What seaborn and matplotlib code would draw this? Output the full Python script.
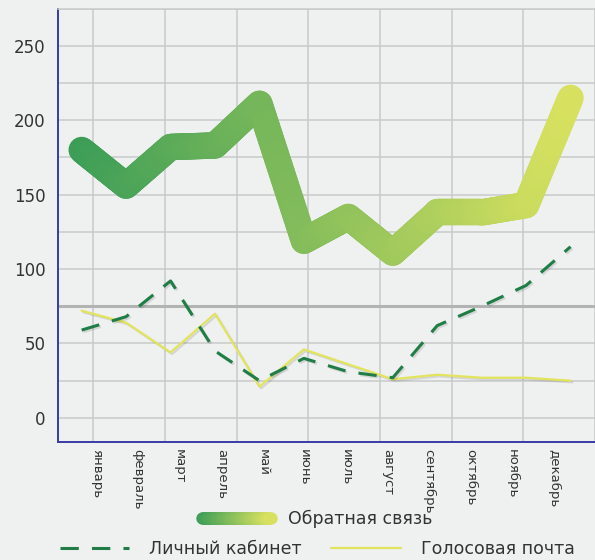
import numpy as np
import matplotlib
matplotlib.use("Agg")
import matplotlib.pyplot as plt
import matplotlib.patheffects as pe
import seaborn as sns
from matplotlib.collections import LineCollection
from matplotlib.colors import LinearSegmentedColormap
from matplotlib.legend_handler import HandlerBase
from matplotlib.lines import Line2D
from matplotlib.ticker import MultipleLocator

months = ["январь", "февраль", "март", "апрель", "май", "июнь",
          "июль", "август", "сентябрь", "октябрь", "ноябрь", "декабрь"]
feedback = [180, 156, 182, 183, 211, 119, 135, 111, 138, 138, 143, 215]
cabinet = [59, 68, 92, 45, 25, 40, 31, 27, 62, 75, 89, 115]
voicemail = [72, 64, 44, 70, 21, 46, 36, 26, 29, 27, 27, 25]
yticks = [0, 50, 100, 150, 200, 250]

BG = "#eff0f0"
TEXT = "#333333"
GRID = "#c9c9c9"
DARK_GREEN = "#1f7d45"
YELLOW = "#e1e45c"
grad = LinearSegmentedColormap.from_list("fb", ["#3c9d57", "#d7e15f"])

sns.set_theme(style="white")
plt.rcParams["font.family"] = ["DejaVu Sans"]


def gradient_pieces(xv, yv, steps=30):
    # split each segment into small pieces so the colour can follow x
    segs, mids = [], []
    for i in range(len(xv) - 1):
        xs = np.linspace(xv[i], xv[i + 1], steps + 1)
        ys = np.linspace(yv[i], yv[i + 1], steps + 1)
        for k in range(steps):
            segs.append([(xs[k], ys[k]), (xs[k + 1], ys[k + 1])])
            mids.append((xs[k] + xs[k + 1]) / 2)
    return segs, np.array(mids)


class GradientHandler(HandlerBase):
    def create_artists(self, legend, orig_handle, xdescent, ydescent,
                       width, height, fontsize, trans):
        n = 40
        xs = np.linspace(-xdescent, width - xdescent, n + 1)
        y0 = height / 2 - ydescent
        segs = [[(xs[k], y0), (xs[k + 1], y0)] for k in range(n)]
        lc = LineCollection(segs, colors=grad(np.linspace(0, 1, n)),
                            linewidths=orig_handle.get_linewidth(),
                            capstyle="round", transform=trans)
        return [lc]


fig = plt.figure(figsize=(5.95, 5.60), dpi=100, facecolor=BG)
ax = fig.add_axes([0.0975, 0.2112, 0.9025, 0.7736])
ax.set_facecolor(BG)

x = np.arange(len(months))

# thick gradient line
segs, mids = gradient_pieces(x, feedback)
lc = LineCollection(segs, colors=grad(mids / mids.max()), linewidths=19,
                    capstyle="round", joinstyle="round", zorder=3)
ax.add_collection(lc)

shadow = [pe.SimpleLineShadow(offset=(1.2, -1.2), alpha=0.12), pe.Normal()]
sns.lineplot(x=x, y=voicemail, color=YELLOW, linewidth=1.6, ax=ax,
             zorder=4, path_effects=shadow)
sns.lineplot(x=x, y=cabinet, color=DARK_GREEN, linewidth=2.2, ax=ax,
             linestyle=(0, (6, 4.3)), zorder=5, path_effects=shadow)

ax.axhline(75, color="#b3b3b3", linewidth=2.2, zorder=1)

ax.set_xlim(-0.532, 11.375)
ax.set_ylim(-16, 275)
ax.set_yticks(yticks)
ax.set_yticklabels([str(v) for v in yticks], fontsize=12, color=TEXT)
ax.yaxis.set_minor_locator(MultipleLocator(25))
ax.set_xticks(0.333 + 0.936 * x)
ax.set_xticklabels(months, rotation=270, fontsize=9.5, color=TEXT)
ax.set_xticks(np.arange(0.266, 12, 1.612), minor=True)
ax.tick_params(which="both", length=0)
ax.tick_params(axis="y", pad=9)
ax.tick_params(axis="x", pad=5)
ax.grid(which="both", axis="y", color=GRID, linewidth=1.1, zorder=0)
ax.grid(which="minor", axis="x", color=GRID, linewidth=1.1, zorder=0)
ax.grid(which="major", axis="x", visible=False)
ax.set_axisbelow(True)
ax.set_xlabel("")
ax.set_ylabel("")

for side in ["left", "bottom"]:
    ax.spines[side].set_color("#3a3aa8")
    ax.spines[side].set_linewidth(1.4)
ax.spines["top"].set_color(GRID)
ax.spines["top"].set_linewidth(1.1)
ax.spines["right"].set_visible(False)

h_feed = Line2D([], [], linewidth=9)
leg1 = fig.legend([h_feed], ["Обратная связь"], loc="center",
                  bbox_to_anchor=(0.533, 0.073), frameon=False,
                  fontsize=12.5, handlelength=4.0, handletextpad=1.0,
                  handler_map={Line2D: GradientHandler()}, labelcolor=TEXT)
h_cab = Line2D([], [], color=DARK_GREEN, linewidth=2.2, linestyle=(0, (6, 4.3)))
h_voice = Line2D([], [], color=YELLOW, linewidth=1.6)
leg2 = fig.legend([h_cab, h_voice], ["Личный кабинет", "Голосовая почта"],
                  loc="center", bbox_to_anchor=(0.533, 0.0196), ncol=2,
                  frameon=False, fontsize=12.5, handlelength=4.0,
                  handletextpad=1.15, columnspacing=1.7, labelcolor=TEXT)

fig.savefig("out.png", dpi=100, facecolor=BG)
